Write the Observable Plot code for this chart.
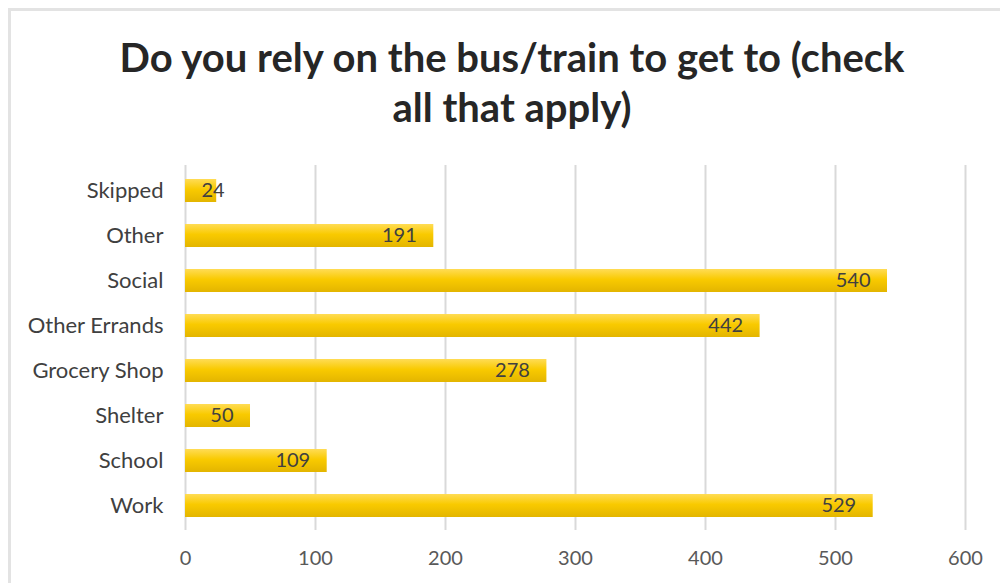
<!DOCTYPE html>
<html>
<head>
<meta charset="utf-8">
<script src="https://cdn.jsdelivr.net/npm/d3@7"></script>
<script src="https://cdn.jsdelivr.net/npm/@observablehq/plot@0.6"></script>
<style>
  html, body { margin: 0; padding: 0; background: #fff; }
  #frame { position: absolute; left: 8px; top: 8px; width: 1000px; height: 600px; border: 3px solid #e3e3e3; box-sizing: border-box; }
  #wrap { position: absolute; left: 0; top: 0; width: 1000px; height: 583px; }
  #title { font-family: Lato, "Open Sans", sans-serif; font-weight: bold; font-size: 40px; color: #262626; text-align: center; line-height: 50px; padding-top: 32px; height: 108px; margin-left: 24px; }
</style>
</head>
<body>
<div id="frame"></div>
<div id="wrap">
  <div id="title">Do you rely on the bus/train to get to (check<br>all that apply)</div>
  <div id="chart"></div>
</div>
<script>
const categories = ["Skipped", "Other", "Social", "Other Errands", "Grocery Shop", "Shelter", "School", "Work"];
const values = [24, 191, 540, 442, 278, 50, 109, 529];
const xTicks = [0, 100, 200, 300, 400, 500, 600];

const data = categories.map((c, i) => ({category: c, value: values[i]}));

const chart = Plot.plot({
  width: 1000,
  height: 443,
  marginLeft: 185,
  marginRight: 35,
  marginTop: 25,
  marginBottom: 53,
  style: {fontFamily: "Lato, 'Open Sans', sans-serif", fontSize: "20px", color: "#595959", background: "transparent"},
  x: {domain: [0, 600], ticks: xTicks, label: null, tickSize: 0, tickPadding: 20},
  y: {domain: categories, label: null, paddingInner: 0.49, paddingOuter: 0.29, tickSize: 0, tickPadding: 22},
  marks: [
    Plot.gridX(xTicks, {stroke: "#d9d9d9", strokeOpacity: 1, strokeWidth: 2}),
    Plot.barX(data, {x: "value", y: "category", fill: "url(#barGrad)"}),
    Plot.text(data.filter(d => d.value >= 40), {x: "value", y: "category", text: d => String(d.value), textAnchor: "end", dx: -17, fill: "#404040", fontSize: 20}),
    Plot.text(data.filter(d => d.value < 40), {x: 0, y: "category", text: d => String(d.value), textAnchor: "start", dx: 16, fill: "#404040", fontSize: 20}),
    Plot.axisX({ticks: xTicks, tickSize: 0, tickPadding: 20, fill: "#595959", fontSize: 20}),
    Plot.axisY({tickSize: 0, tickPadding: 22, fill: "#404040", fontSize: 22})
  ]
});

const ns = "http://www.w3.org/2000/svg";
const defs = document.createElementNS(ns, "defs");
const grad = document.createElementNS(ns, "linearGradient");
grad.setAttribute("id", "barGrad");
grad.setAttribute("x1", "0"); grad.setAttribute("y1", "0");
grad.setAttribute("x2", "0"); grad.setAttribute("y2", "1");
[["0%", "#ffdc55"], ["45%", "#f9ca00"], ["100%", "#e3b500"]].forEach(([o, c]) => {
  const s = document.createElementNS(ns, "stop");
  s.setAttribute("offset", o); s.setAttribute("stop-color", c);
  grad.appendChild(s);
});
defs.appendChild(grad);
chart.insertBefore(defs, chart.firstChild);

document.getElementById("chart").appendChild(chart);
</script>
</body>
</html>
